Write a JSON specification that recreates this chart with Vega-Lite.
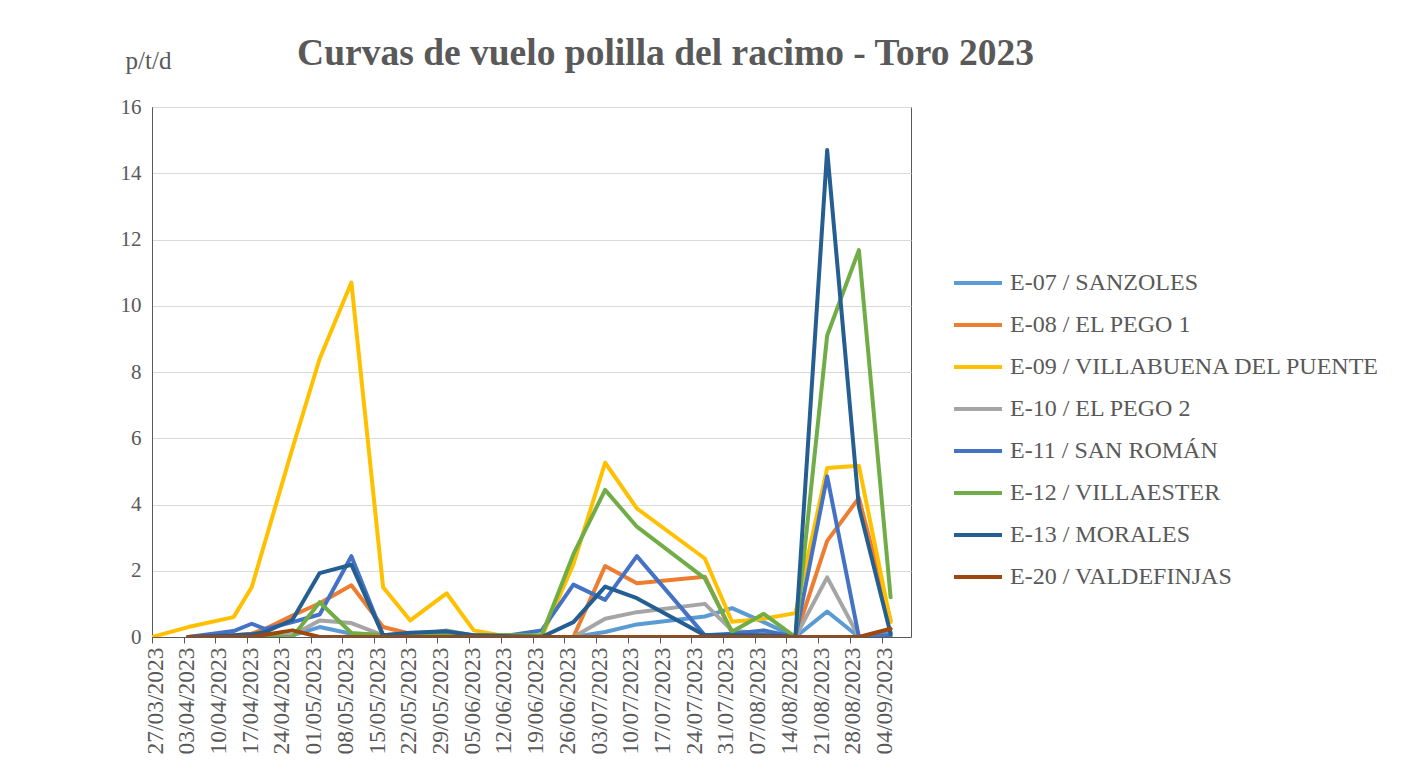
{
  "$schema": "https://vega.github.io/schema/vega-lite/v6.json",
  "autosize": "none",
  "padding": {"left": 152, "top": 107, "right": 498, "bottom": 135},
  "width": 759,
  "height": 530,
  "background": "white",
  "title": {
    "text": "Curvas de vuelo polilla del racimo - Toro 2023",
    "font": "Liberation Serif",
    "fontSize": 37.5,
    "fontWeight": "bold",
    "color": "#595959",
    "anchor": "middle",
    "dx": 134,
    "dy": 28,
    "offset": 4
  },
  "config": {
    "view": {"stroke": "#595959", "strokeWidth": 1},
    "axis": {"labelFont": "Liberation Serif", "labelColor": "#595959", "titleFont": "Liberation Serif", "titleColor": "#595959"}
  },
  "data": {
    "values": [
      {"fecha": "2023-04-04", "estacion": "E-07 / SANZOLES", "valor": 0},
      {"fecha": "2023-04-14", "estacion": "E-07 / SANZOLES", "valor": 0},
      {"fecha": "2023-04-18", "estacion": "E-07 / SANZOLES", "valor": 0},
      {"fecha": "2023-04-21", "estacion": "E-07 / SANZOLES", "valor": 0},
      {"fecha": "2023-04-27", "estacion": "E-07 / SANZOLES", "valor": 0.05},
      {"fecha": "2023-05-03", "estacion": "E-07 / SANZOLES", "valor": 0.3},
      {"fecha": "2023-05-10", "estacion": "E-07 / SANZOLES", "valor": 0.1},
      {"fecha": "2023-05-17", "estacion": "E-07 / SANZOLES", "valor": 0.05},
      {"fecha": "2023-05-23", "estacion": "E-07 / SANZOLES", "valor": 0.05},
      {"fecha": "2023-05-31", "estacion": "E-07 / SANZOLES", "valor": 0.05},
      {"fecha": "2023-06-06", "estacion": "E-07 / SANZOLES", "valor": 0},
      {"fecha": "2023-06-14", "estacion": "E-07 / SANZOLES", "valor": 0},
      {"fecha": "2023-06-21", "estacion": "E-07 / SANZOLES", "valor": 0},
      {"fecha": "2023-06-28", "estacion": "E-07 / SANZOLES", "valor": 0},
      {"fecha": "2023-07-05", "estacion": "E-07 / SANZOLES", "valor": 0.15},
      {"fecha": "2023-07-12", "estacion": "E-07 / SANZOLES", "valor": 0.38},
      {"fecha": "2023-07-27", "estacion": "E-07 / SANZOLES", "valor": 0.62},
      {"fecha": "2023-08-02", "estacion": "E-07 / SANZOLES", "valor": 0.87},
      {"fecha": "2023-08-09", "estacion": "E-07 / SANZOLES", "valor": 0.45},
      {"fecha": "2023-08-16", "estacion": "E-07 / SANZOLES", "valor": 0},
      {"fecha": "2023-08-23", "estacion": "E-07 / SANZOLES", "valor": 0.77},
      {"fecha": "2023-08-30", "estacion": "E-07 / SANZOLES", "valor": 0},
      {"fecha": "2023-09-06", "estacion": "E-07 / SANZOLES", "valor": 0.15},

      {"fecha": "2023-04-04", "estacion": "E-08 / EL PEGO 1", "valor": 0},
      {"fecha": "2023-04-14", "estacion": "E-08 / EL PEGO 1", "valor": 0.05},
      {"fecha": "2023-04-18", "estacion": "E-08 / EL PEGO 1", "valor": 0.1},
      {"fecha": "2023-04-21", "estacion": "E-08 / EL PEGO 1", "valor": 0.25},
      {"fecha": "2023-04-27", "estacion": "E-08 / EL PEGO 1", "valor": 0.65},
      {"fecha": "2023-05-03", "estacion": "E-08 / EL PEGO 1", "valor": 1.02},
      {"fecha": "2023-05-10", "estacion": "E-08 / EL PEGO 1", "valor": 1.56},
      {"fecha": "2023-05-17", "estacion": "E-08 / EL PEGO 1", "valor": 0.3},
      {"fecha": "2023-05-23", "estacion": "E-08 / EL PEGO 1", "valor": 0.1},
      {"fecha": "2023-05-31", "estacion": "E-08 / EL PEGO 1", "valor": 0.1},
      {"fecha": "2023-06-06", "estacion": "E-08 / EL PEGO 1", "valor": 0.05},
      {"fecha": "2023-06-14", "estacion": "E-08 / EL PEGO 1", "valor": 0},
      {"fecha": "2023-06-21", "estacion": "E-08 / EL PEGO 1", "valor": 0},
      {"fecha": "2023-06-28", "estacion": "E-08 / EL PEGO 1", "valor": 0},
      {"fecha": "2023-07-05", "estacion": "E-08 / EL PEGO 1", "valor": 2.14},
      {"fecha": "2023-07-12", "estacion": "E-08 / EL PEGO 1", "valor": 1.62},
      {"fecha": "2023-07-27", "estacion": "E-08 / EL PEGO 1", "valor": 1.82},
      {"fecha": "2023-08-02", "estacion": "E-08 / EL PEGO 1", "valor": 0.12},
      {"fecha": "2023-08-09", "estacion": "E-08 / EL PEGO 1", "valor": 0.05},
      {"fecha": "2023-08-16", "estacion": "E-08 / EL PEGO 1", "valor": 0},
      {"fecha": "2023-08-23", "estacion": "E-08 / EL PEGO 1", "valor": 2.9},
      {"fecha": "2023-08-30", "estacion": "E-08 / EL PEGO 1", "valor": 4.2},
      {"fecha": "2023-09-06", "estacion": "E-08 / EL PEGO 1", "valor": 0.5},

      {"fecha": "2023-03-27", "estacion": "E-09 / VILLABUENA DEL PUENTE", "valor": 0},
      {"fecha": "2023-04-04", "estacion": "E-09 / VILLABUENA DEL PUENTE", "valor": 0.3},
      {"fecha": "2023-04-14", "estacion": "E-09 / VILLABUENA DEL PUENTE", "valor": 0.6},
      {"fecha": "2023-04-18", "estacion": "E-09 / VILLABUENA DEL PUENTE", "valor": 1.5},
      {"fecha": "2023-04-21", "estacion": "E-09 / VILLABUENA DEL PUENTE", "valor": 2.9},
      {"fecha": "2023-04-27", "estacion": "E-09 / VILLABUENA DEL PUENTE", "valor": 5.7},
      {"fecha": "2023-05-03", "estacion": "E-09 / VILLABUENA DEL PUENTE", "valor": 8.4},
      {"fecha": "2023-05-10", "estacion": "E-09 / VILLABUENA DEL PUENTE", "valor": 10.7},
      {"fecha": "2023-05-17", "estacion": "E-09 / VILLABUENA DEL PUENTE", "valor": 1.5},
      {"fecha": "2023-05-23", "estacion": "E-09 / VILLABUENA DEL PUENTE", "valor": 0.5},
      {"fecha": "2023-05-31", "estacion": "E-09 / VILLABUENA DEL PUENTE", "valor": 1.32},
      {"fecha": "2023-06-06", "estacion": "E-09 / VILLABUENA DEL PUENTE", "valor": 0.2},
      {"fecha": "2023-06-14", "estacion": "E-09 / VILLABUENA DEL PUENTE", "valor": 0},
      {"fecha": "2023-06-21", "estacion": "E-09 / VILLABUENA DEL PUENTE", "valor": 0},
      {"fecha": "2023-06-28", "estacion": "E-09 / VILLABUENA DEL PUENTE", "valor": 2.2},
      {"fecha": "2023-07-05", "estacion": "E-09 / VILLABUENA DEL PUENTE", "valor": 5.26},
      {"fecha": "2023-07-12", "estacion": "E-09 / VILLABUENA DEL PUENTE", "valor": 3.88},
      {"fecha": "2023-07-27", "estacion": "E-09 / VILLABUENA DEL PUENTE", "valor": 2.37},
      {"fecha": "2023-08-02", "estacion": "E-09 / VILLABUENA DEL PUENTE", "valor": 0.46},
      {"fecha": "2023-08-09", "estacion": "E-09 / VILLABUENA DEL PUENTE", "valor": 0.55},
      {"fecha": "2023-08-16", "estacion": "E-09 / VILLABUENA DEL PUENTE", "valor": 0.72},
      {"fecha": "2023-08-23", "estacion": "E-09 / VILLABUENA DEL PUENTE", "valor": 5.1},
      {"fecha": "2023-08-30", "estacion": "E-09 / VILLABUENA DEL PUENTE", "valor": 5.17},
      {"fecha": "2023-09-06", "estacion": "E-09 / VILLABUENA DEL PUENTE", "valor": 0.45},

      {"fecha": "2023-04-04", "estacion": "E-10 / EL PEGO 2", "valor": 0},
      {"fecha": "2023-04-14", "estacion": "E-10 / EL PEGO 2", "valor": 0},
      {"fecha": "2023-04-18", "estacion": "E-10 / EL PEGO 2", "valor": 0},
      {"fecha": "2023-04-21", "estacion": "E-10 / EL PEGO 2", "valor": 0},
      {"fecha": "2023-04-27", "estacion": "E-10 / EL PEGO 2", "valor": 0.05},
      {"fecha": "2023-05-03", "estacion": "E-10 / EL PEGO 2", "valor": 0.5},
      {"fecha": "2023-05-10", "estacion": "E-10 / EL PEGO 2", "valor": 0.42},
      {"fecha": "2023-05-17", "estacion": "E-10 / EL PEGO 2", "valor": 0.05},
      {"fecha": "2023-05-23", "estacion": "E-10 / EL PEGO 2", "valor": 0.05},
      {"fecha": "2023-05-31", "estacion": "E-10 / EL PEGO 2", "valor": 0.2},
      {"fecha": "2023-06-06", "estacion": "E-10 / EL PEGO 2", "valor": 0.05},
      {"fecha": "2023-06-14", "estacion": "E-10 / EL PEGO 2", "valor": 0},
      {"fecha": "2023-06-21", "estacion": "E-10 / EL PEGO 2", "valor": 0},
      {"fecha": "2023-06-28", "estacion": "E-10 / EL PEGO 2", "valor": 0},
      {"fecha": "2023-07-05", "estacion": "E-10 / EL PEGO 2", "valor": 0.55},
      {"fecha": "2023-07-12", "estacion": "E-10 / EL PEGO 2", "valor": 0.75},
      {"fecha": "2023-07-27", "estacion": "E-10 / EL PEGO 2", "valor": 1.0},
      {"fecha": "2023-08-02", "estacion": "E-10 / EL PEGO 2", "valor": 0.2},
      {"fecha": "2023-08-09", "estacion": "E-10 / EL PEGO 2", "valor": 0.1},
      {"fecha": "2023-08-16", "estacion": "E-10 / EL PEGO 2", "valor": 0},
      {"fecha": "2023-08-23", "estacion": "E-10 / EL PEGO 2", "valor": 1.8},
      {"fecha": "2023-08-30", "estacion": "E-10 / EL PEGO 2", "valor": 0},
      {"fecha": "2023-09-06", "estacion": "E-10 / EL PEGO 2", "valor": 0.05},

      {"fecha": "2023-04-04", "estacion": "E-11 / SAN ROMÁN", "valor": 0},
      {"fecha": "2023-04-14", "estacion": "E-11 / SAN ROMÁN", "valor": 0.18},
      {"fecha": "2023-04-18", "estacion": "E-11 / SAN ROMÁN", "valor": 0.4},
      {"fecha": "2023-04-21", "estacion": "E-11 / SAN ROMÁN", "valor": 0.24},
      {"fecha": "2023-04-27", "estacion": "E-11 / SAN ROMÁN", "valor": 0.45},
      {"fecha": "2023-05-03", "estacion": "E-11 / SAN ROMÁN", "valor": 0.68},
      {"fecha": "2023-05-10", "estacion": "E-11 / SAN ROMÁN", "valor": 2.44},
      {"fecha": "2023-05-17", "estacion": "E-11 / SAN ROMÁN", "valor": 0.05},
      {"fecha": "2023-05-23", "estacion": "E-11 / SAN ROMÁN", "valor": 0.1},
      {"fecha": "2023-05-31", "estacion": "E-11 / SAN ROMÁN", "valor": 0.1},
      {"fecha": "2023-06-06", "estacion": "E-11 / SAN ROMÁN", "valor": 0.05},
      {"fecha": "2023-06-14", "estacion": "E-11 / SAN ROMÁN", "valor": 0.05},
      {"fecha": "2023-06-21", "estacion": "E-11 / SAN ROMÁN", "valor": 0.2},
      {"fecha": "2023-06-28", "estacion": "E-11 / SAN ROMÁN", "valor": 1.58},
      {"fecha": "2023-07-05", "estacion": "E-11 / SAN ROMÁN", "valor": 1.12},
      {"fecha": "2023-07-12", "estacion": "E-11 / SAN ROMÁN", "valor": 2.44},
      {"fecha": "2023-07-27", "estacion": "E-11 / SAN ROMÁN", "valor": 0.05},
      {"fecha": "2023-08-02", "estacion": "E-11 / SAN ROMÁN", "valor": 0.1},
      {"fecha": "2023-08-09", "estacion": "E-11 / SAN ROMÁN", "valor": 0.2},
      {"fecha": "2023-08-16", "estacion": "E-11 / SAN ROMÁN", "valor": 0},
      {"fecha": "2023-08-23", "estacion": "E-11 / SAN ROMÁN", "valor": 4.85},
      {"fecha": "2023-08-30", "estacion": "E-11 / SAN ROMÁN", "valor": 0},
      {"fecha": "2023-09-06", "estacion": "E-11 / SAN ROMÁN", "valor": 0.05},

      {"fecha": "2023-04-04", "estacion": "E-12 / VILLAESTER", "valor": 0},
      {"fecha": "2023-04-14", "estacion": "E-12 / VILLAESTER", "valor": 0},
      {"fecha": "2023-04-18", "estacion": "E-12 / VILLAESTER", "valor": 0},
      {"fecha": "2023-04-21", "estacion": "E-12 / VILLAESTER", "valor": 0},
      {"fecha": "2023-04-27", "estacion": "E-12 / VILLAESTER", "valor": 0},
      {"fecha": "2023-05-03", "estacion": "E-12 / VILLAESTER", "valor": 1.05},
      {"fecha": "2023-05-10", "estacion": "E-12 / VILLAESTER", "valor": 0.12},
      {"fecha": "2023-05-17", "estacion": "E-12 / VILLAESTER", "valor": 0.05},
      {"fecha": "2023-05-23", "estacion": "E-12 / VILLAESTER", "valor": 0.05},
      {"fecha": "2023-05-31", "estacion": "E-12 / VILLAESTER", "valor": 0.05},
      {"fecha": "2023-06-06", "estacion": "E-12 / VILLAESTER", "valor": 0.05},
      {"fecha": "2023-06-14", "estacion": "E-12 / VILLAESTER", "valor": 0.05},
      {"fecha": "2023-06-21", "estacion": "E-12 / VILLAESTER", "valor": 0.05},
      {"fecha": "2023-06-28", "estacion": "E-12 / VILLAESTER", "valor": 2.5},
      {"fecha": "2023-07-05", "estacion": "E-12 / VILLAESTER", "valor": 4.44},
      {"fecha": "2023-07-12", "estacion": "E-12 / VILLAESTER", "valor": 3.33},
      {"fecha": "2023-07-27", "estacion": "E-12 / VILLAESTER", "valor": 1.77},
      {"fecha": "2023-08-02", "estacion": "E-12 / VILLAESTER", "valor": 0.16},
      {"fecha": "2023-08-09", "estacion": "E-12 / VILLAESTER", "valor": 0.7},
      {"fecha": "2023-08-16", "estacion": "E-12 / VILLAESTER", "valor": 0},
      {"fecha": "2023-08-23", "estacion": "E-12 / VILLAESTER", "valor": 9.1},
      {"fecha": "2023-08-30", "estacion": "E-12 / VILLAESTER", "valor": 11.68},
      {"fecha": "2023-09-06", "estacion": "E-12 / VILLAESTER", "valor": 1.2},

      {"fecha": "2023-04-04", "estacion": "E-13 / MORALES", "valor": 0},
      {"fecha": "2023-04-14", "estacion": "E-13 / MORALES", "valor": 0.05},
      {"fecha": "2023-04-18", "estacion": "E-13 / MORALES", "valor": 0.08},
      {"fecha": "2023-04-21", "estacion": "E-13 / MORALES", "valor": 0.15},
      {"fecha": "2023-04-27", "estacion": "E-13 / MORALES", "valor": 0.52},
      {"fecha": "2023-05-03", "estacion": "E-13 / MORALES", "valor": 1.93},
      {"fecha": "2023-05-10", "estacion": "E-13 / MORALES", "valor": 2.18},
      {"fecha": "2023-05-17", "estacion": "E-13 / MORALES", "valor": 0.05},
      {"fecha": "2023-05-23", "estacion": "E-13 / MORALES", "valor": 0.13},
      {"fecha": "2023-05-31", "estacion": "E-13 / MORALES", "valor": 0.17},
      {"fecha": "2023-06-06", "estacion": "E-13 / MORALES", "valor": 0.05},
      {"fecha": "2023-06-14", "estacion": "E-13 / MORALES", "valor": 0.02},
      {"fecha": "2023-06-21", "estacion": "E-13 / MORALES", "valor": 0},
      {"fecha": "2023-06-28", "estacion": "E-13 / MORALES", "valor": 0.45},
      {"fecha": "2023-07-05", "estacion": "E-13 / MORALES", "valor": 1.52},
      {"fecha": "2023-07-12", "estacion": "E-13 / MORALES", "valor": 1.17},
      {"fecha": "2023-07-27", "estacion": "E-13 / MORALES", "valor": 0.05},
      {"fecha": "2023-08-02", "estacion": "E-13 / MORALES", "valor": 0.05},
      {"fecha": "2023-08-09", "estacion": "E-13 / MORALES", "valor": 0.05},
      {"fecha": "2023-08-16", "estacion": "E-13 / MORALES", "valor": 0},
      {"fecha": "2023-08-23", "estacion": "E-13 / MORALES", "valor": 14.7},
      {"fecha": "2023-08-30", "estacion": "E-13 / MORALES", "valor": 3.93},
      {"fecha": "2023-09-06", "estacion": "E-13 / MORALES", "valor": 0.1},

      {"fecha": "2023-04-04", "estacion": "E-20 / VALDEFINJAS", "valor": 0},
      {"fecha": "2023-04-14", "estacion": "E-20 / VALDEFINJAS", "valor": 0},
      {"fecha": "2023-04-18", "estacion": "E-20 / VALDEFINJAS", "valor": 0},
      {"fecha": "2023-04-21", "estacion": "E-20 / VALDEFINJAS", "valor": 0.07},
      {"fecha": "2023-04-27", "estacion": "E-20 / VALDEFINJAS", "valor": 0.2},
      {"fecha": "2023-05-03", "estacion": "E-20 / VALDEFINJAS", "valor": 0},
      {"fecha": "2023-05-10", "estacion": "E-20 / VALDEFINJAS", "valor": 0},
      {"fecha": "2023-05-17", "estacion": "E-20 / VALDEFINJAS", "valor": 0},
      {"fecha": "2023-05-23", "estacion": "E-20 / VALDEFINJAS", "valor": 0},
      {"fecha": "2023-05-31", "estacion": "E-20 / VALDEFINJAS", "valor": 0},
      {"fecha": "2023-06-06", "estacion": "E-20 / VALDEFINJAS", "valor": 0},
      {"fecha": "2023-06-14", "estacion": "E-20 / VALDEFINJAS", "valor": 0},
      {"fecha": "2023-06-21", "estacion": "E-20 / VALDEFINJAS", "valor": 0},
      {"fecha": "2023-06-28", "estacion": "E-20 / VALDEFINJAS", "valor": 0},
      {"fecha": "2023-07-05", "estacion": "E-20 / VALDEFINJAS", "valor": 0},
      {"fecha": "2023-07-12", "estacion": "E-20 / VALDEFINJAS", "valor": 0},
      {"fecha": "2023-07-27", "estacion": "E-20 / VALDEFINJAS", "valor": 0},
      {"fecha": "2023-08-02", "estacion": "E-20 / VALDEFINJAS", "valor": 0},
      {"fecha": "2023-08-09", "estacion": "E-20 / VALDEFINJAS", "valor": 0},
      {"fecha": "2023-08-16", "estacion": "E-20 / VALDEFINJAS", "valor": 0},
      {"fecha": "2023-08-23", "estacion": "E-20 / VALDEFINJAS", "valor": 0},
      {"fecha": "2023-08-30", "estacion": "E-20 / VALDEFINJAS", "valor": 0},
      {"fecha": "2023-09-06", "estacion": "E-20 / VALDEFINJAS", "valor": 0.25}
    ]
  },
  "mark": {"type": "line", "strokeWidth": 4, "strokeJoin": "round", "strokeCap": "round", "clip": true},
  "encoding": {
    "x": {
      "field": "fecha",
      "type": "temporal",
      "scale": {
        "type": "utc",
        "domain": [
          {"year": 2023, "month": 3, "date": 27, "utc": true},
          {"year": 2023, "month": 9, "date": 10, "hours": 12, "utc": true}
        ]
      },
      "axis": {
        "title": null,
        "grid": false,
        "labelExpr": "utcFormat(datum.value, '%d/%m/%Y')",
        "labelAngle": -90,
        "labelFontSize": 23.5,
        "labelPadding": 4,
        "labelOffset": 3,
        "labelOverlap": false,
        "labelFlush": false,
        "tickSize": 6,
        "tickColor": "#595959",
        "domainColor": "#595959",
        "values": [
          {"year": 2023, "month": 3, "date": 27, "utc": true},
          {"year": 2023, "month": 4, "date": 3, "utc": true},
          {"year": 2023, "month": 4, "date": 10, "utc": true},
          {"year": 2023, "month": 4, "date": 17, "utc": true},
          {"year": 2023, "month": 4, "date": 24, "utc": true},
          {"year": 2023, "month": 5, "date": 1, "utc": true},
          {"year": 2023, "month": 5, "date": 8, "utc": true},
          {"year": 2023, "month": 5, "date": 15, "utc": true},
          {"year": 2023, "month": 5, "date": 22, "utc": true},
          {"year": 2023, "month": 5, "date": 29, "utc": true},
          {"year": 2023, "month": 6, "date": 5, "utc": true},
          {"year": 2023, "month": 6, "date": 12, "utc": true},
          {"year": 2023, "month": 6, "date": 19, "utc": true},
          {"year": 2023, "month": 6, "date": 26, "utc": true},
          {"year": 2023, "month": 7, "date": 3, "utc": true},
          {"year": 2023, "month": 7, "date": 10, "utc": true},
          {"year": 2023, "month": 7, "date": 17, "utc": true},
          {"year": 2023, "month": 7, "date": 24, "utc": true},
          {"year": 2023, "month": 7, "date": 31, "utc": true},
          {"year": 2023, "month": 8, "date": 7, "utc": true},
          {"year": 2023, "month": 8, "date": 14, "utc": true},
          {"year": 2023, "month": 8, "date": 21, "utc": true},
          {"year": 2023, "month": 8, "date": 28, "utc": true},
          {"year": 2023, "month": 9, "date": 4, "utc": true}
        ]
      }
    },
    "y": {
      "field": "valor",
      "type": "quantitative",
      "scale": {"domain": [0, 16], "nice": false},
      "axis": {
        "title": "p/t/d",
        "titleAngle": 0,
        "titleX": -4,
        "titleY": -47,
        "titleAlign": "center",
        "titleBaseline": "middle",
        "titleFontSize": 25,
        "titleFontWeight": "normal",
        "values": [0, 2, 4, 6, 8, 10, 12, 14, 16],
        "labelFontSize": 21,
        "labelPadding": 11,
        "ticks": false,
        "domainColor": "#595959",
        "gridColor": "#D9D9D9",
        "gridWidth": 1
      }
    },
    "color": {
      "field": "estacion",
      "type": "nominal",
      "scale": {
        "domain": ["E-07 / SANZOLES", "E-08 / EL PEGO 1", "E-09 / VILLABUENA DEL PUENTE", "E-10 / EL PEGO 2", "E-11 / SAN ROMÁN", "E-12 / VILLAESTER", "E-13 / MORALES", "E-20 / VALDEFINJAS"],
        "range": ["#5B9BD5", "#ED7D31", "#FFC000", "#A5A5A5", "#4472C4", "#70AD47", "#255E91", "#9E480E"]
      },
      "legend": {
        "title": null,
        "orient": "none",
        "legendX": 804,
        "legendY": 154,
        "padding": 0,
        "symbolType": "M-1.2,0H1.2",
        "symbolSize": 1600,
        "symbolStrokeWidth": 4,
        "labelFont": "Liberation Serif",
        "labelFontSize": 24,
        "labelColor": "#595959",
        "labelOffset": 10,
        "labelLimit": 500,
        "rowPadding": 8
      }
    },
    "order": {"field": "fecha", "type": "temporal"}
  }
}
